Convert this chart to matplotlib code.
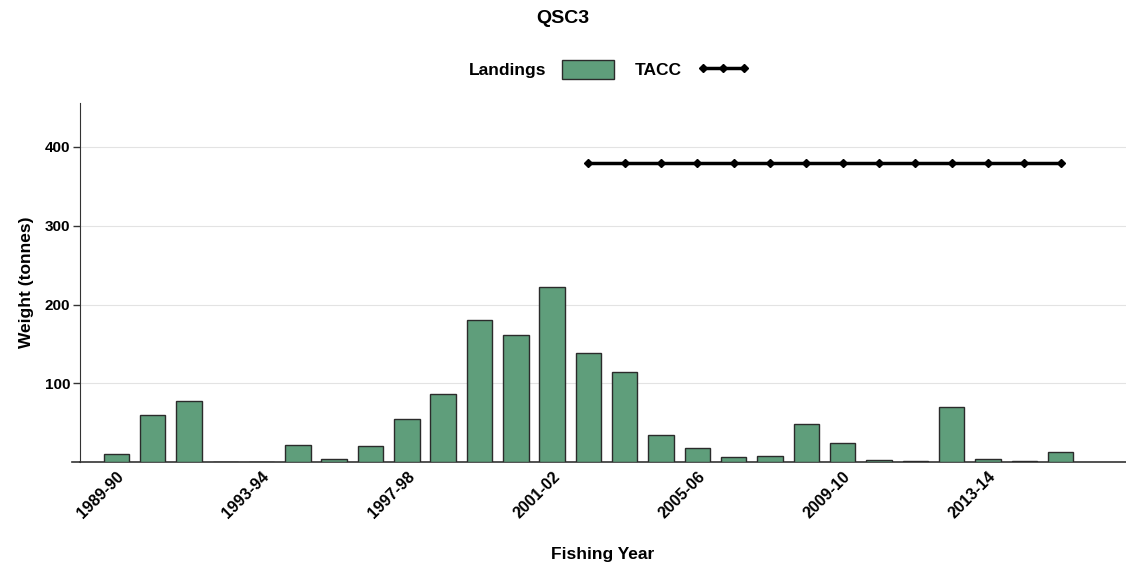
import matplotlib.pyplot as plt
import numpy as np

plt.rcParams['font.family'] = ['Liberation Sans', 'DejaVu Sans']

years = ["1989-90", "1990-91", "1991-92", "1992-93", "1993-94", "1994-95",
         "1995-96", "1996-97", "1997-98", "1998-99", "1999-00", "2000-01",
         "2001-02", "2002-03", "2003-04", "2004-05", "2005-06", "2006-07",
         "2007-08", "2008-09", "2009-10", "2010-11", "2011-12", "2012-13",
         "2013-14", "2014-15", "2015-16"]
landings = [11, 60, 77, 0, 0, 22, 4, 20, 55, 86, 180, 162,
            222, 138, 114, 34, 18, 6, 8, 48, 24, 3, 2, 70,
            4, 1.5, 13]
tacc_years = years[13:]
tacc = [380] * len(tacc_years)

tick_labels = ["1989-90", "1993-94", "1997-98", "2001-02", "2005-06", "2009-10", "2013-14"]


def main():
    fig = plt.figure(figsize=(11.26, 5.65), dpi=100)
    ax = fig.add_axes([0.071, 0.182, 0.929, 0.636])

    x = np.arange(len(years))
    tx = np.array([years.index(y) for y in tacc_years])

    bars = ax.bar(x, landings, width=0.7, color="#5f9e7b", edgecolor="#2b2b2b",
                  linewidth=1.0, label="Landings", zorder=3)
    line, = ax.plot(tx, tacc, color="black", linewidth=2.5, marker="D",
                    markersize=4, label="TACC", zorder=4)

    ax.set_xlim(-1.0, 27.8)
    ax.set_ylim(0, 456)
    ax.set_yticks([100, 200, 300, 400])
    ax.grid(axis="y", color="#e3e3e3", linewidth=0.8, zorder=0)

    ticks = [years.index(t) for t in tick_labels]
    ax.set_xticks(ticks)
    ax.set_xticklabels(tick_labels, rotation=45, ha="right", rotation_mode="anchor",
                       fontsize=11.5, fontweight="bold")
    for lab in ax.get_yticklabels():
        lab.set_fontweight("bold")
        lab.set_fontsize(11)
    ax.tick_params(axis="x", length=0, pad=5)
    ax.tick_params(axis="y", length=5, width=1, color="#333333", pad=2)

    ax.spines["top"].set_visible(False)
    ax.spines["right"].set_visible(False)
    ax.spines["left"].set_color("#333333")
    ax.spines["bottom"].set_color("#333333")
    ax.spines["bottom"].set_linewidth(1.2)
    # bottom axis line runs a little past the left spine, as in the original
    ax.plot([-1.22, -1.0], [0, 0], color="#333333", linewidth=1.2, clip_on=False)

    ax.set_ylabel("Weight (tonnes)", fontsize=12.5, fontweight="bold", labelpad=8)
    ax.set_xlabel("Fishing Year", fontsize=12.5, fontweight="bold", labelpad=18)

    fig.suptitle("QSC3", fontsize=14, fontweight="bold", y=0.982)
    fig.legend(handles=[bars, line], labels=["Landings", "TACC"], ncol=2,
               loc="center", bbox_to_anchor=(0.541, 0.877), frameon=False,
               markerfirst=False, prop={"weight": "bold", "size": 12.5},
               handlelength=3.0, handleheight=1.3, handletextpad=0.9,
               columnspacing=1.2, numpoints=3)

    plt.savefig("out.png", dpi=100)


if __name__ == '__main__':
    main()
